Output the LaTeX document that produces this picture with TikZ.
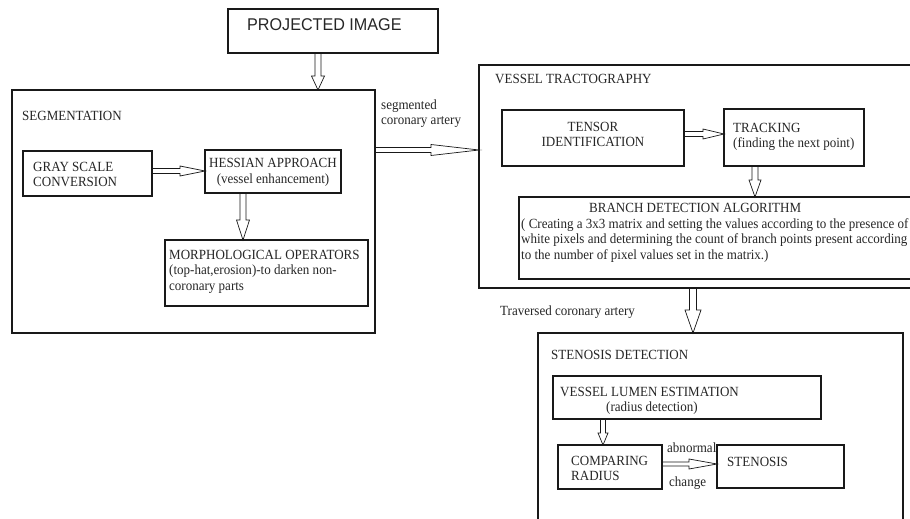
\documentclass[tikz,border=0pt]{standalone}
\usepackage{fontspec}
\setmainfont{Liberation Serif}[FakeStretch=0.93]
\newfontfamily\projfont{Liberation Sans}[FakeStretch=0.95]
\usetikzlibrary{calc}
\definecolor{ink}{gray}{0.1}
\definecolor{tx}{gray}{0.15}
\tikzset{
  box/.style={draw=ink, line width=1.8pt, outer sep=0pt, inner sep=0pt, anchor=north west},
  txt/.style={inner sep=0pt, text=tx, font=\fontsize{14}{15.5}\selectfont, anchor=west, align=left},
  aw/.store in=\arw, aW/.store in=\arW, ah/.store in=\arh,
  aw=2.5pt, aW=5.5pt, ah=18pt,
  harrow/.style={draw=ink, line width=0.7pt, line join=miter, to path={
     let \p1=($(\tikztotarget)!\arh!(\tikztostart)$) in
     ($(\tikztostart)!\arw!90:(\tikztotarget)$) --
     ($(\p1)!\arw!90:(\tikztotarget)$) --
     ($(\p1)!\arW!90:(\tikztotarget)$) --
     (\tikztotarget) --
     ($(\p1)!\arW!-90:(\tikztotarget)$) --
     ($(\p1)!\arw!-90:(\tikztotarget)$) --
     ($(\tikztostart)!\arw!-90:(\tikztotarget)$) -- cycle}}
}
\begin{document}
\begin{tikzpicture}[x=1pt,y=-1pt]
\useasboundingbox (0,0) rectangle (910,519);
\clip (0,0) rectangle (910,519);
\fill[white] (0,0) rectangle (910,519);

% boxes
\node[box, minimum width=210pt, minimum height=44pt] (proj) at (228,9) {};
\node[box, minimum width=363pt, minimum height=243pt] (seg) at (12,90) {};
\node[box, minimum width=129pt, minimum height=45pt] (gray) at (23,151) {};
\node[box, minimum width=136pt, minimum height=43pt] (hess) at (205,150) {};
\node[box, minimum width=203pt, minimum height=66pt] (morph) at (165,240) {};
\node[box, minimum width=451pt, minimum height=223pt] (vt) at (479,65) {};
\node[box, minimum width=182pt, minimum height=56pt] (tensor) at (502,110) {};
\node[box, minimum width=140pt, minimum height=57pt] (track) at (724,109) {};
\node[box, minimum width=411pt, minimum height=82pt] (branch) at (519,197) {};
\node[box, minimum width=365pt, minimum height=207pt] (sd) at (538,333) {};
\node[box, minimum width=268pt, minimum height=43pt] (lumen) at (553,376) {};
\node[box, minimum width=104pt, minimum height=44pt] (comp) at (558,445) {};
\node[box, minimum width=127pt, minimum height=43pt] (sten) at (717,445) {};

% texts
\node[txt, font=\projfont\fontsize{17}{19}\selectfont] (projt) at (247,25) {PROJECTED IMAGE};
\node[txt] (segt) at (22,116) {SEGMENTATION};
\node[txt] (seglab) at (381,113.5) {segmented\\coronary artery};
\node[txt] (grayt) at (33,174.5) {GRAY SCALE\\CONVERSION};
\node[txt, anchor=center, align=center] (hesst) at (273,172.5) {HESSIAN APPROACH\\(vessel enhancement)};
\node[txt] (morpht) at (169,271.5) {MORPHOLOGICAL OPERATORS\\(top-hat,erosion)-to darken non-\\coronary parts};
\node[txt] (vtt) at (495,79) {VESSEL TRACTOGRAPHY};
\node[txt, anchor=center, align=center] (tensort) at (593,134.5) {TENSOR\\IDENTIFICATION};
\node[txt] (trackt) at (733,137) {TRACKING\\(finding the next point)};
\node[txt] (brancht) at (521,233) {\hspace*{68pt}BRANCH DETECTION ALGORITHM\\( Creating a 3x3 matrix and setting the values according to the presence of\\white pixels and determining the count of branch points present according\\to the number of pixel values set in the matrix.)};
\node[txt] (travt) at (500,312) {Traversed coronary artery};
\node[txt] (sdt) at (551,355) {STENOSIS DETECTION};
\node[txt] (lument) at (560,401) {VESSEL LUMEN ESTIMATION\\\hspace*{46pt}(radius detection)};
\node[txt] (compt) at (571,468.5) {COMPARING\\RADIUS};
\node[txt] (stent) at (727,462) {STENOSIS};
\node[txt] (abn) at (667,448) {abnormal};
\node[txt] (chg) at (669,483) {change};

% hollow arrows
\draw[harrow, ah=14pt, aW=6.5pt, aw=3pt] (proj.south -| 318,0) to (seg.north -| 318,0);
\draw[harrow, ah=48pt, aW=5.5pt, aw=2.5pt] (seg.east |- 0,150) to (vt.west |- 0,150);
\draw[harrow, ah=25pt, aW=5pt, aw=2.5pt] (gray.east |- 0,171) to (hess.west |- 0,171);
\draw[harrow, ah=20pt, aW=6.5pt, aw=3pt] (hess.south -| 243,0) to (morph.north -| 243,0);
\draw[harrow, ah=21pt, aW=5pt, aw=2.5pt] (tensor.east |- 0,134) to (track.west |- 0,134);
\draw[harrow, ah=17pt, aW=6pt, aw=3pt] (track.south -| 755,0) to (branch.north -| 755,0);
\draw[harrow, ah=23pt, aW=8pt, aw=3.5pt] (vt.south -| 693,0) to (sd.north -| 693,0);
\draw[harrow, ah=12pt, aW=5pt, aw=2.5pt] (lumen.south -| 603,0) to (comp.north -| 603,0);
\draw[harrow, ah=28pt, aW=5pt, aw=2pt] (comp.east |- 0,464) to (sten.west |- 0,464);
\end{tikzpicture}
\end{document}
